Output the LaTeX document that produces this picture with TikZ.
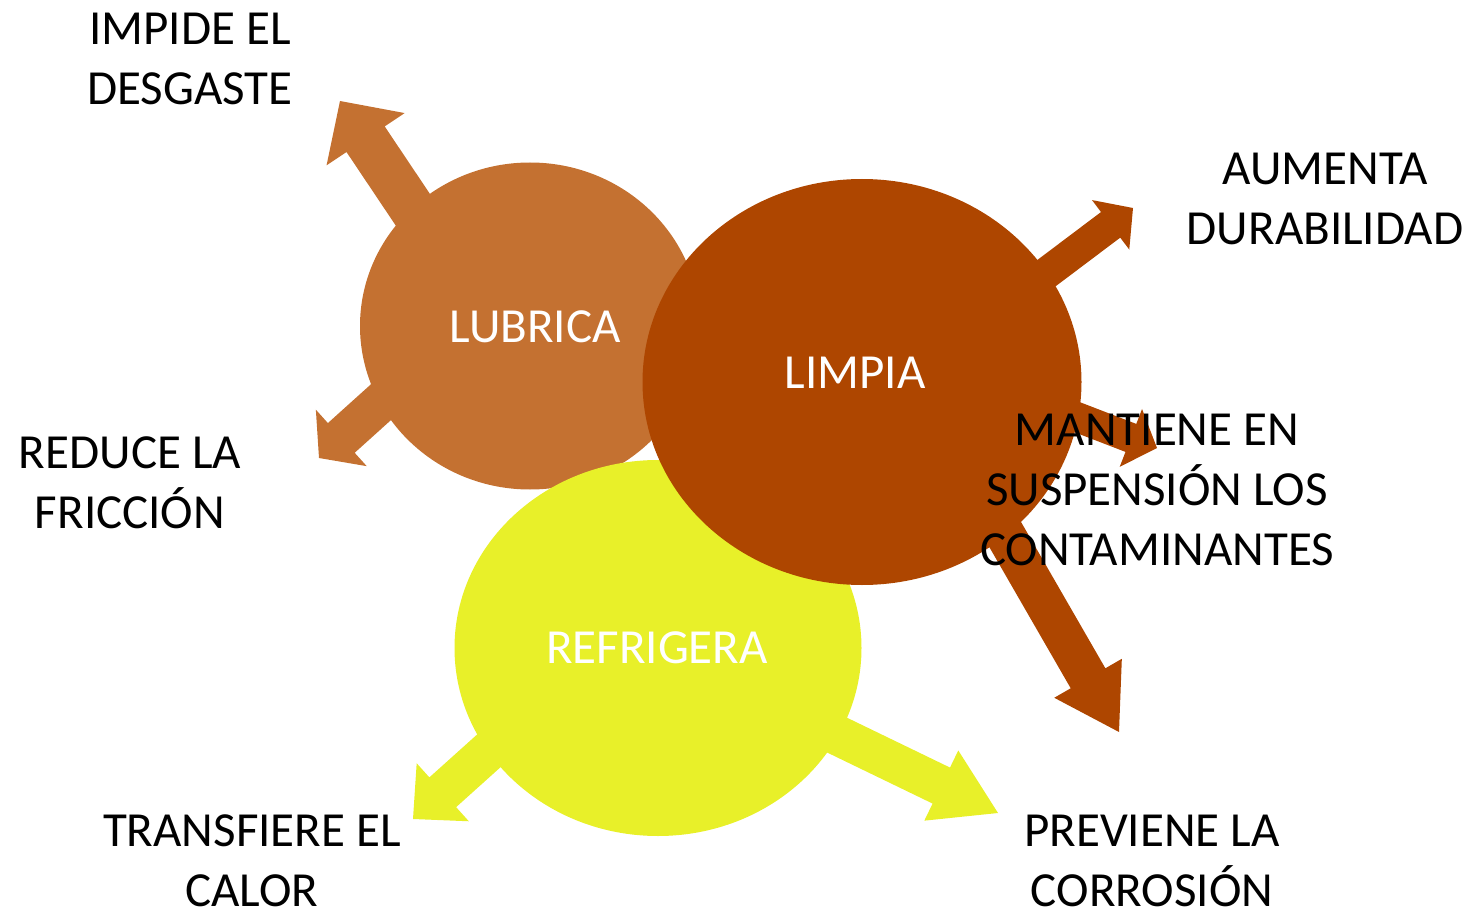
\documentclass[tikz,border=0pt]{standalone}
\usepackage{fontspec}
\setmainfont{Carlito}
\usepackage{tikz}
\usetikzlibrary{shapes.geometric, calc, backgrounds}
\definecolor{lubcol}{RGB}{196,113,49}
\definecolor{limcol}{RGB}{174,70,0}
\definecolor{refcol}{RGB}{232,240,41}
\tikzset{
    blob/.style = {ellipse, inner sep=0pt},
    blobtext/.style = {text=white, inner sep=0pt,
        font=\fontsize{49}{58}\selectfont},
    effect/.style = {align=center, text=black, inner sep=0pt,
        font=\fontsize{49}{60}\selectfont},
}
% block arrow: colour, start, tip, half shaft, half head, head length
\newcommand{\blockarrow}[6]{%
    \coordinate (hb) at ($(#3)!#6!(#2)$);
    \fill[#1] ($(#2)!#4!90:(#3)$) -- ($(hb)!#4!90:(#3)$) -- ($(hb)!#5!90:(#3)$)
        -- (#3) -- ($(hb)!#5!-90:(#3)$) -- ($(hb)!#4!-90:(#3)$)
        -- ($(#2)!#4!-90:(#3)$) -- cycle;
}

\begin{document}
\begin{tikzpicture}[x=1pt,y=-1pt]
        \useasboundingbox (0,0) rectangle (1484,915);
        \node (lub) [blob, fill=lubcol, minimum width=340pt, minimum height=327pt] at (530,326) {};
        \node (ref) [blob, fill=refcol, minimum width=407pt, minimum height=376pt] at (658,648) {};
        \node (lim) [blob, fill=limcol, minimum width=439pt, minimum height=406pt] at (862,382) {};
        \node (lublab) [blobtext] at (535,327) {LUBRICA};
        \node (reflab) [blobtext] at (657,648) {REFRIGERA};
        \node (limlab) [blobtext] at (855,373) {LIMPIA};
        % arrow ends
        \coordinate (s1) at (480,310); \coordinate (t1) at (340,101);
        \coordinate (s2) at (450,340); \coordinate (t2) at (319,458);
        \coordinate (s3) at (951,345); \coordinate (t3) at (1133,208);
        \coordinate (s4) at (898,348); \coordinate (t4) at (1157,448);
        \coordinate (s5) at (938,418); \coordinate (t5) at (1119,732);
        \coordinate (s6) at (591,659); \coordinate (t6) at (413,819);
        \coordinate (s7) at (717,677); \coordinate (t7) at (998,813);
        \begin{scope}[on background layer]
            \blockarrow{lubcol}{s1}{t1}{23pt}{47pt}{46pt}
            \blockarrow{lubcol}{s2}{t2}{20pt}{38pt}{30pt}
            \blockarrow{limcol}{s3}{t3}{16pt}{31pt}{28pt}
            \blockarrow{limcol}{s4}{t4}{15pt}{31pt}{28pt}
            \blockarrow{limcol}{s5}{t5}{20pt}{39pt}{62pt}
            \blockarrow{refcol}{s6}{t6}{20pt}{39pt}{40pt}
            \blockarrow{refcol}{s7}{t7}{20pt}{39pt}{63pt}
        \end{scope}
        % effects
        \node (desg) [effect] at (190,59) {IMPIDE EL\\DESGASTE};
        \node (fric) [effect] at (130,483) {REDUCE LA\\FRICCIÓN};
        \node (dura) [effect] at (1325,199) {AUMENTA\\DURABILIDAD};
        \node (cont) [effect] at (1157,490) {MANTIENE EN\\SUSPENSIÓN LOS\\CONTAMINANTES};
        \node (calo) [effect] at (252,861) {TRANSFIERE EL\\CALOR};
        \node (corr) [effect] at (1152,861) {PREVIENE LA\\CORROSIÓN};
\end{tikzpicture}
\end{document}
